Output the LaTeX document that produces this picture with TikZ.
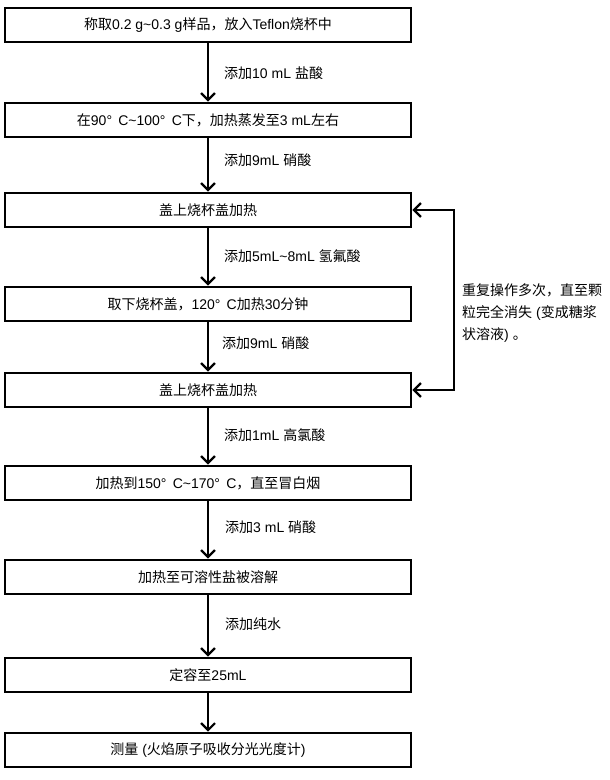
\documentclass[tikz,border=0pt]{standalone}
\usepackage{fontspec}
\setmainfont{Liberation Sans}
\newfontfamily\cjkfont{Noto Sans CJK SC}
\newcommand\zhs[1]{{\cjkfont #1}}
\usetikzlibrary{arrows.meta}
\begin{document}
\begin{tikzpicture}[x=1bp,y=-1bp,
  every node/.style={font=\fontsize{14bp}{22bp}\selectfont},
  stepbox/.style={draw, line width=2.8bp, minimum width=406bp, minimum height=34bp, inner sep=0pt, anchor=center},
  flow/.style={line width=2bp, -{Straight Barb[length=7bp,width=14bp,line width=2.2bp]}},
  loop/.style={line width=2bp, {Straight Barb[length=7bp,width=14bp,line width=2.2bp]}-{Straight Barb[length=7bp,width=14bp,line width=2.2bp]}},
  lab/.style={anchor=west, inner sep=0pt}]
\useasboundingbox (0,0) rectangle (610,780);
\node[stepbox] (b1) at (208,25) {\zhs{称取}0.2 g\textasciitilde0.3 g\zhs{样品，放入}Teflon\zhs{烧杯中}};
\node[stepbox] (b2) at (208,120) {\zhs{在}90° \,C\textasciitilde100° \,C\zhs{下，加热蒸发至}3 mL\zhs{左右}};
\node[stepbox] (b3) at (208,210) {\zhs{盖上烧杯盖加热}};
\node[stepbox] (b4) at (208,304) {\zhs{取下烧杯盖，}120° \,C\zhs{加热}30\zhs{分钟}};
\node[stepbox] (b5) at (208,390) {\zhs{盖上烧杯盖加热}};
\node[stepbox] (b6) at (208,483) {\zhs{加热到}150° \,C\textasciitilde170° \,C\zhs{，直至冒白烟}};
\node[stepbox] (b7) at (208,577) {\zhs{加热至可溶性盐被溶解}};
\node[stepbox] (b8) at (208,675) {\zhs{定容至}25mL};
\node[stepbox] (b9) at (208,750) {\zhs{测量} (\zhs{火焰原子吸收分光光度计})};
\draw[flow] (b1) -- (b2);
\draw[flow] (b2) -- (b3);
\draw[flow] (b3) -- (b4);
\draw[flow] (b4) -- (b5);
\draw[flow] (b5) -- (b6);
\draw[flow] (b6) -- (b7);
\draw[flow] (b7) -- (b8);
\draw[flow] (b8) -- (b9);
\node[lab] (l1) at (224,73) {\zhs{添加}10 mL \zhs{盐酸}};
\node[lab] (l2) at (224,160) {\zhs{添加}9mL \zhs{硝酸}};
\node[lab] (l3) at (224,256) {\zhs{添加}5mL\textasciitilde8mL \zhs{氢氟酸}};
\node[lab] (l4) at (222,343) {\zhs{添加}9mL \zhs{硝酸}};
\node[lab] (l5) at (224,435) {\zhs{添加}1mL \zhs{高氯酸}};
\node[lab] (l6) at (225,527) {\zhs{添加}3 mL \zhs{硝酸}};
\node[lab] (l7) at (225,624) {\zhs{添加纯水}};
\coordinate (c1) at (454,210);
\coordinate (c2) at (454,390);
\draw[loop] (b3.east) -- (c1) -- (c2) -- (b5.east);
\node[anchor=west, align=left, inner sep=0pt] (note) at (462,313)
  {\zhs{重复操作多次，直至颗}\\\zhs{粒完全消失} (\zhs{变成糖浆}\\\zhs{状溶液}) \zhs{。}};
\end{tikzpicture}
\end{document}
